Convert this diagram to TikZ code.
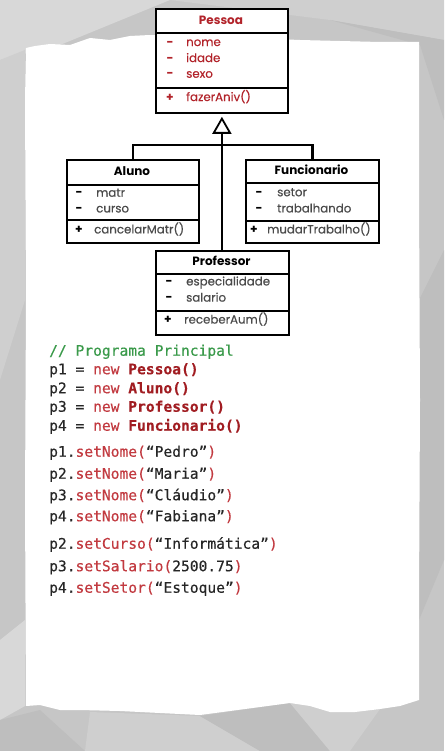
\documentclass[tikz,border=0pt]{standalone}
\usepackage{fontspec}
\setmainfont{Poppins}
\newfontfamily\umlreg{Poppins}[FakeBold=0.45]
\newfontfamily\codefont{DejaVu Sans Mono}[FakeBold=0.35]
\usetikzlibrary{arrows.meta}
\definecolor{bgA}{HTML}{C6C6C6}
\definecolor{bgB}{HTML}{CFCFCF}
\definecolor{bgC}{HTML}{BEBEBE}
\definecolor{bgD}{HTML}{D8D8D8}
\definecolor{umlred}{HTML}{B2232A}
\definecolor{umlgray}{HTML}{4A4A4A}
\definecolor{cgreen}{HTML}{3A9A4A}
\definecolor{cred}{HTML}{C23A40}
\definecolor{cdark}{HTML}{A11D22}
\definecolor{ctext}{HTML}{262626}
\tikzset{
  umlbox/.style={draw=black, fill=white, line width=1.8pt, inner sep=0pt, minimum width=132pt, anchor=north west},
  sepline/.style={line width=1.8pt},
  conn/.style={line width=2.2pt},
  utitle/.style={inner sep=0pt, anchor=mid, font=\fontsize{12}{14}\selectfont\bfseries},
  utext/.style={inner sep=0pt, anchor=mid west, font=\umlreg\fontsize{11.8}{14}\selectfont, text=umlgray},
  umark/.style={inner sep=0pt, anchor=mid, font=\fontsize{12}{14}\selectfont\bfseries},
  code/.style={inner sep=0pt, anchor=mid west, font=\codefont\fontsize{14.6}{16}\selectfont, text=ctext}
}
\begin{document}
\begin{tikzpicture}[x=1pt,y=-1pt]
\useasboundingbox (0,0) rectangle (444,751);
% background
\fill[bgA] (0,0) rectangle (444,751);
\fill[bgD] (0,0) -- (170,0) -- (60,45) -- (0,60) -- cycle;
\fill[bgB] (170,0) -- (444,0) -- (444,40) -- (330,20) -- cycle;
\fill[bgC] (330,20) -- (444,40) -- (444,120) -- (420,45) -- cycle;
\fill[bgB] (0,60) -- (25,50) -- (25,300) -- (0,380) -- cycle;
\fill[bgC] (419,300) -- (444,250) -- (444,560) -- (419,620) -- cycle;
\fill[bgD] (0,640) -- (25,620) -- (25,706) -- (0,720) -- cycle;
\fill[bgB] (85,751) -- (90,712) -- (200,716) -- (260,751) -- cycle;
\fill[bgC] (200,716) -- (290,703) -- (330,751) -- (260,751) -- cycle;
\fill[bgB] (290,703) -- (380,709) -- (350,751) -- (330,751) -- cycle;
\fill[bgC] (0,720) -- (40,710) -- (85,751) -- (0,751) -- cycle;
% paper
\fill[white] (26,48) -- (35,46) -- (50,44) -- (70,45) -- (90,38) -- (110,40) -- (130,36) -- (150,35)
  -- (200,37) -- (250,38) -- (300,40) -- (340,41) -- (380,42) -- (419,42)
  -- (419,200) -- (420,400) -- (419,600) -- (419,700)
  -- (400,706) -- (380,709) -- (355,712) -- (330,712) -- (310,706) -- (290,703) -- (260,707)
  -- (230,711) -- (200,715) -- (160,713) -- (120,711) -- (80,710) -- (60,710) -- (40,705) -- (26,706)
  -- (25,500) -- (26,300) -- (25,100) -- cycle;
% Pessoa
\node[umlbox, minimum height=104pt] (pessoa) at (155,8.5) {};
\draw[sepline] (155,33.3) -- (287,33.3);
\draw[sepline] (155,88.3) -- (287,88.3);
\node[utitle, text=umlred] (pt) at (221,21.7) {Pessoa};
\node[umark, text=umlred] (pd1) at (170,43.3) {-};
\node[umark, text=umlred] (pd2) at (170,59.3) {-};
\node[umark, text=umlred] (pd3) at (170,75) {-};
\node[umark, text=umlred] (pp1) at (170,98.3) {+};
\node[utext, text=umlred] (pa1) at (186,43.3) {nome};
\node[utext, text=umlred] (pa2) at (186,59.3) {idade};
\node[utext, text=umlred] (pa3) at (186,75) {sexo};
\node[utext, text=umlred] (pm1) at (186,98.3) {fazerAniv()};
% Aluno
\node[umlbox, minimum height=83pt] (aluno) at (66,159) {};
\draw[sepline] (66,185) -- (198,185);
\draw[sepline] (66,220) -- (198,220);
\node[utitle] (at) at (132,172.6) {Aluno};
\node[umark] (ad1) at (79,194) {-};
\node[umark] (ad2) at (79,209.7) {-};
\node[umark] (ap1) at (79,230.7) {+};
\node[utext] (aa1) at (96,194) {matr};
\node[utext] (aa2) at (96,209.7) {curso};
\node[utext] (am1) at (94,230.7) {cancelarMatr()};
% Funcionario
\node[umlbox, minimum width=133pt, minimum height=83pt] (func) at (245,159) {};
\draw[sepline] (245,183) -- (378,183);
\draw[sepline] (245,221) -- (378,221);
\node[utitle] (ft) at (311.5,171.5) {Funcionario};
\node[umark] (fd1) at (259,193.5) {-};
\node[umark] (fd2) at (259,209.7) {-};
\node[umark] (fp1) at (254,230.7) {+};
\node[utext] (fa1) at (277,193.5) {setor};
\node[utext] (fa2) at (277,209.7) {trabalhando};
\node[utext] (fm1) at (267,230.7) {mudarTrabalho()};
% Professor
\node[umlbox, minimum width=133pt, minimum height=84pt] (prof) at (155,250) {};
\draw[sepline] (155,274) -- (288,274);
\draw[sepline] (155,311) -- (288,311);
\node[utitle] (prt) at (221.5,262.6) {Professor};
\node[umark] (rd1) at (169,282.7) {-};
\node[umark] (rd2) at (169,298.9) {-};
\node[umark] (rp1) at (168,320.8) {+};
\node[utext] (ra1) at (186,282.7) {especialidade};
\node[utext] (ra2) at (186,298.9) {salario};
\node[utext] (rm1) at (184,320.8) {receberAum()};
% connectors
\coordinate (bar) at (221,145);
\draw[conn, -{Triangle[open, length=17pt, width=19pt, line width=1.8pt]}, shorten >=2.5pt] (prof.north -| pessoa.south) -- (pessoa.south);
\draw[conn] (aluno.north) |- (bar) -| (func.north);
% code
\node[code, text=cgreen] (c0) at (49,353) {// Programa Principal};
\node[code] (c1) at (49,371.5) {p1 = \textcolor{cred}{new} \textcolor{cdark}{\bfseries Pessoa()}};
\node[code] (c2) at (49,390.5) {p2 = \textcolor{cred}{new} \textcolor{cdark}{\bfseries Aluno()}};
\node[code] (c3) at (49,409) {p3 = \textcolor{cred}{new} \textcolor{cdark}{\bfseries Professor()}};
\node[code] (c4) at (49,428) {p4 = \textcolor{cred}{new} \textcolor{cdark}{\bfseries Funcionario()}};
\node[code] (c5) at (49,454) {p1.\textcolor{cred}{setNome(}“Pedro”\textcolor{cred}{)}};
\node[code] (c6) at (49,476) {p2.\textcolor{cred}{setNome(}“Maria”\textcolor{cred}{)}};
\node[code] (c7) at (49,497.5) {p3.\textcolor{cred}{setNome(}“Cláudio”\textcolor{cred}{)}};
\node[code] (c8) at (49,518.5) {p4.\textcolor{cred}{setNome(}“Fabiana”\textcolor{cred}{)}};
\node[code] (c9) at (49,546) {p2.\textcolor{cred}{setCurso(}“Informática”\textcolor{cred}{)}};
\node[code] (c10) at (49,568.5) {p3.\textcolor{cred}{setSalario(}2500.75\textcolor{cred}{)}};
\node[code] (c11) at (49,590) {p4.\textcolor{cred}{setSetor(}“Estoque”\textcolor{cred}{)}};
\end{tikzpicture}
\end{document}
